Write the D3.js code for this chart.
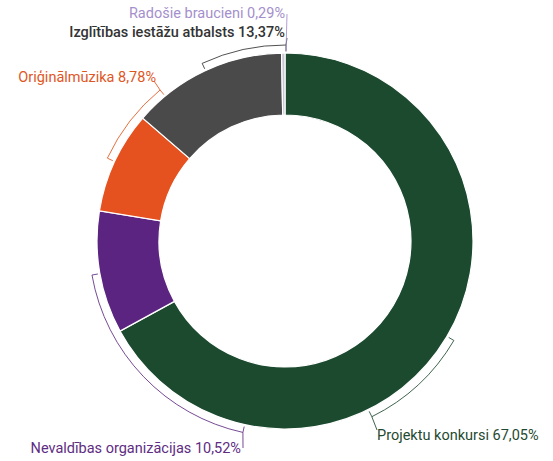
<!DOCTYPE html>
<html>
<head>
<meta charset="utf-8">
<script src="https://cdn.jsdelivr.net/npm/d3@7"></script>
<style>
  html, body { margin: 0; padding: 0; background: #fff; }
  svg text { font-family: Roboto, "Noto Sans", sans-serif; }
</style>
</head>
<body>
<svg id="chart" width="553" height="461"></svg>
<script>
// ---- data ----
const categories = ["Projektu konkursi", "Nevaldības organizācijas", "Oriģinālmūzika", "Izglītības iestāžu atbalsts", "Radošie braucieni"];
const values = [67.05, 10.52, 8.78, 13.37, 0.29];
const valueLabels = ["67,05%", "10,52%", "8,78%", "13,37%", "0,29%"];
const colors = ["#1b4a2f", "#5b2480", "#e5511f", "#4a4a4a", "#c8c6d6"];
const labelColors = ["#1f4a30", "#5e2c82", "#e0561f", "#333333", "#a48fcc"];

// ---- layout ----
const W = 553, H = 461;
const cx = 285, cy = 241, R = 188, r = 126;
const svg = d3.select("#chart");
const g = svg.append("g").attr("transform", `translate(${cx},${cy})`);

const pie = d3.pie().sort(null).value(d => d).startAngle(0).endAngle(2 * Math.PI);
const arcs = pie(values);
const arc = d3.arc().innerRadius(r).outerRadius(R);

g.selectAll("path.slice").data(arcs).enter().append("path")
  .attr("class", "slice")
  .attr("d", arc)
  .attr("fill", (d, i) => colors[i])
  .attr("stroke", "#fff")
  .attr("stroke-width", 1.2);

// annotation brackets (angles in degrees, clockwise from top), as drawn in reference
const brackets = [
  { i: 0, a0: 120.5, a1: 153.7 },
  { i: 1, a0: 192.4, a1: 260 },
  { i: 2, a0: 295, a1: 320.4 },
  { i: 3, a0: 335, a1: 360.3 }
];
const rB = 196, tick = 6;
const rad = a => a * Math.PI / 180;
const pt = (a, rr) => [Math.sin(rad(a)) * rr, -Math.cos(rad(a)) * rr];

brackets.forEach(b => {
  const p0o = pt(b.a0, rB), p0i = pt(b.a0, rB - tick);
  const p1i = pt(b.a1, rB - tick);
  const path = d3.path();
  path.moveTo(p0i[0], p0i[1]);
  path.lineTo(p0o[0], p0o[1]);
  path.arc(0, 0, rB, rad(b.a0) - Math.PI / 2, rad(b.a1) - Math.PI / 2, false);
  path.lineTo(p1i[0], p1i[1]);
  g.append("path").attr("d", path.toString())
    .attr("fill", "none").attr("stroke", labelColors[b.i]).attr("stroke-width", 1).attr("opacity", 0.85);
});

// leaders + labels (positions relative to chart centre)
const labels = [
  { i: 0, from: pt(153.7, rB), to: [92, 189], tx: 92, ty: 199, anchor: "start" },
  { i: 1, from: pt(192.4, rB), to: [-42, 207], tx: -44, ty: 212, anchor: "end" },
  { i: 2, from: pt(320.4, rB), to: [-131, -160], tx: -129, ty: -159, anchor: "end" },
  { i: 3, from: pt(360.3, rB), to: [2, -203], tx: 0, ty: -204, anchor: "end" },
  { i: 4, from: pt(0.3, R + 1), to: [2, -227], tx: 0, ty: -223, anchor: "end" }
];

labels.forEach(l => {
  g.append("line")
    .attr("x1", l.from[0]).attr("y1", l.from[1])
    .attr("x2", l.to[0]).attr("y2", l.to[1])
    .attr("stroke", labelColors[l.i]).attr("stroke-width", 1).attr("opacity", 0.85);
  g.append("text")
    .attr("x", l.tx).attr("y", l.ty)
    .attr("text-anchor", l.anchor)
    .attr("fill", labelColors[l.i])
    .attr("font-size", 14.5)
    .attr("font-weight", l.i === 3 ? 500 : 400)
    .text(categories[l.i] + " " + valueLabels[l.i]);
});
</script>
</body>
</html>
